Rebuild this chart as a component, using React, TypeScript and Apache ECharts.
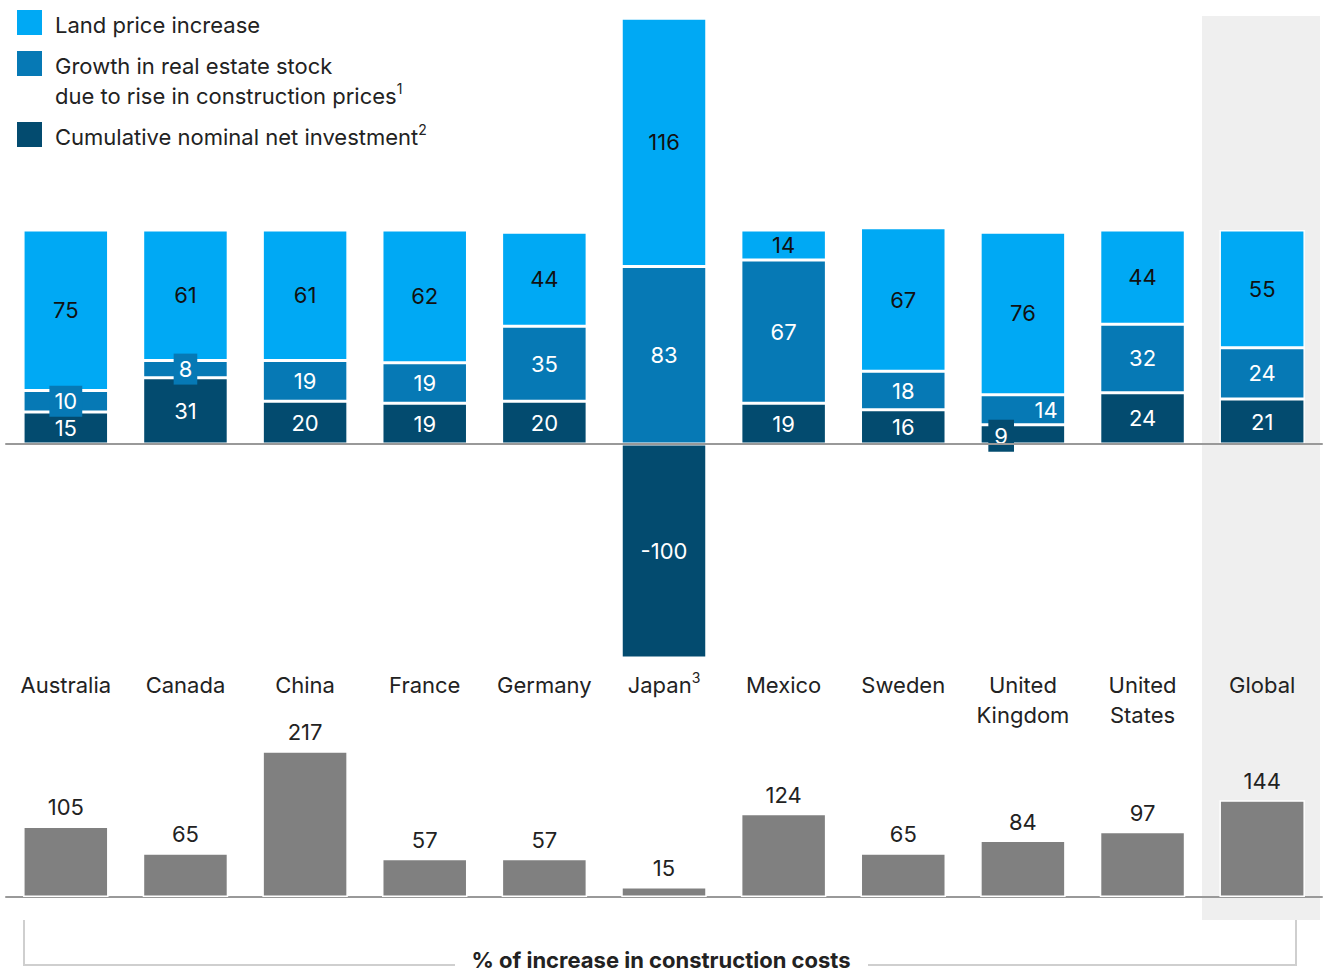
import React, { useEffect, useRef } from "react";
import * as echarts from "echarts";

const categories = ["Australia", "Canada", "China", "France", "Germany", "Japan", "Mexico", "Sweden", "United\nKingdom", "United\nStates", "Global"];
const landPrice = [75, 61, 61, 62, 44, 116, 14, 67, 76, 44, 55];
const stockGrowth = [10, 8, 19, 19, 35, 83, 67, 18, 14, 32, 24];
const netInvestment = [15, 31, 20, 19, 20, -100, 19, 16, 9, 24, 21];
const constructionCosts = [105, 65, 217, 57, 57, 15, 124, 65, 84, 97, 144];

const LIGHT = "#00a9f4";
const MID = "#0679b5";
const DARK = "#034b6f";
const GRAY = "#808080";
const FONT = "Inter, 'Liberation Sans', sans-serif";

export default function App() {
  const ref = useRef<HTMLDivElement>(null);
  useEffect(() => {
    document.body.style.margin = "0";
    const chart = echarts.init(ref.current!, null, { renderer: "svg" });

    const baseLabel = { show: true, fontFamily: FONT, fontSize: 22 };
    const supRich = { sup: { fontSize: 14, verticalAlign: "top", lineHeight: 24, fontFamily: FONT, color: "#222" } };

    const investData = netInvestment.map((v, i) => {
      if (i === 8) {
        return {
          value: v,
          label: { position: [21, 11], align: "center", verticalAlign: "middle", backgroundColor: DARK, padding: [5, 6, 5, 6] },
        };
      }
      return v;
    });
    const stockData = stockGrowth.map((v, i) => {
      if (i === 0 || i === 1) {
        return { value: v, label: { backgroundColor: MID, padding: [5, 5, 4, 5] } };
      }
      if (i === 8) {
        return { value: v, label: { position: "insideRight", distance: 8 } };
      }
      return v;
    });

    const option: any = {
      animation: false,
      textStyle: { fontFamily: FONT },
      grid: [
        { left: 6, width: 1316, top: 16, height: 642 },
        { left: 6, width: 1316, top: 729, height: 168 },
      ],
      xAxis: [
        {
          gridIndex: 0,
          type: "category",
          data: categories,
          axisLine: { show: false, onZero: false },
          axisTick: { show: false },
          axisLabel: {
            margin: 12,
            fontSize: 22,
            lineHeight: 30,
            color: "#222",
            fontFamily: FONT,
            interval: 0,
            formatter: (v: string) => (v === "Japan" ? "Japan{sup|3}" : v),
            rich: { sup: { fontSize: 14, verticalAlign: "top", lineHeight: 24, fontFamily: FONT, color: "#222" } },
          },
        },
        {
          gridIndex: 1,
          type: "category",
          data: categories,
          axisLine: { show: true, lineStyle: { color: "#999", width: 2 } },
          axisTick: { show: false },
          axisLabel: { show: false },
        },
        {
          gridIndex: 0,
          type: "category",
          data: categories,
          axisLine: { show: true, onZero: true, lineStyle: { color: "#999", width: 2 } },
          axisTick: { show: false },
          axisLabel: { show: false },
          z: 5,
        },
      ],
      yAxis: [
        { gridIndex: 0, type: "value", min: -100, max: 200, show: false, splitLine: { show: false } },
        { gridIndex: 1, type: "value", min: 0, max: 250, show: false, splitLine: { show: false } },
      ],
      graphic: [
        { type: "rect", z: -100, silent: true, shape: { x: 1202, y: 16, width: 118, height: 904 }, style: { fill: "#efefef" } },
        { type: "rect", shape: { x: 17, y: 10, width: 25, height: 25 }, style: { fill: LIGHT } },
        { type: "text", x: 55, y: 25, style: { text: "Land price increase", fontSize: 22, fontFamily: FONT, fill: "#222", verticalAlign: "middle" } },
        { type: "rect", shape: { x: 17, y: 51, width: 25, height: 25 }, style: { fill: MID } },
        {
          type: "text",
          x: 55,
          y: 51,
          style: {
            text: "Growth in real estate stock\ndue to rise in construction prices{sup|1}",
            fontSize: 22,
            lineHeight: 30,
            fontFamily: FONT,
            fill: "#222",
            verticalAlign: "top",
            rich: supRich,
          },
        },
        { type: "rect", shape: { x: 17, y: 122, width: 25, height: 25 }, style: { fill: DARK } },
        {
          type: "text",
          x: 55,
          y: 122,
          style: {
            text: "Cumulative nominal net investment{sup|2}",
            fontSize: 22,
            lineHeight: 30,
            fontFamily: FONT,
            fill: "#222",
            verticalAlign: "top",
            rich: supRich,
          },
        },
        {
          type: "polyline",
          shape: { points: [[455, 965], [24, 965], [24, 920]] },
          style: { stroke: "#cfcfcf", lineWidth: 2, fill: null },
        },
        {
          type: "polyline",
          shape: { points: [[868, 965], [1296, 965], [1296, 920]] },
          style: { stroke: "#cfcfcf", lineWidth: 2, fill: null },
        },
        {
          type: "text",
          x: 661,
          y: 960,
          style: {
            text: "% of increase in construction costs",
            fontSize: 22,
            fontWeight: "bold",
            fontFamily: FONT,
            fill: "#222",
            align: "center",
            verticalAlign: "middle",
          },
        },
      ],
      series: [
        {
          name: "Cumulative nominal net investment",
          type: "bar",
          stack: "total",
          xAxisIndex: 0,
          yAxisIndex: 0,
          barWidth: 85.5,
          data: investData,
          itemStyle: { color: DARK, borderColor: "#fff", borderWidth: 1.5 },
          label: { ...baseLabel, color: "#fff" },
        },
        {
          name: "Growth in real estate stock due to rise in construction prices",
          type: "bar",
          stack: "total",
          xAxisIndex: 0,
          yAxisIndex: 0,
          barWidth: 85.5,
          data: stockData,
          itemStyle: { color: MID, borderColor: "#fff", borderWidth: 1.5 },
          label: { ...baseLabel, color: "#fff" },
        },
        {
          name: "Land price increase",
          type: "bar",
          stack: "total",
          xAxisIndex: 0,
          yAxisIndex: 0,
          barWidth: 85.5,
          data: landPrice,
          itemStyle: { color: LIGHT, borderColor: "#fff", borderWidth: 1.5 },
          label: { ...baseLabel, color: "#111" },
        },
        {
          name: "% of increase in construction costs",
          type: "bar",
          xAxisIndex: 1,
          yAxisIndex: 1,
          barWidth: 85.5,
          data: constructionCosts,
          itemStyle: { color: GRAY, borderColor: "#fff", borderWidth: 1.5 },
          label: { ...baseLabel, color: "#222", position: "top", distance: 8 },
        },
      ],
    };
    chart.setOption(option);
    return () => chart.dispose();
  }, []);
  return <div ref={ref} style={{ width: 1326, height: 974 }} />;
}
